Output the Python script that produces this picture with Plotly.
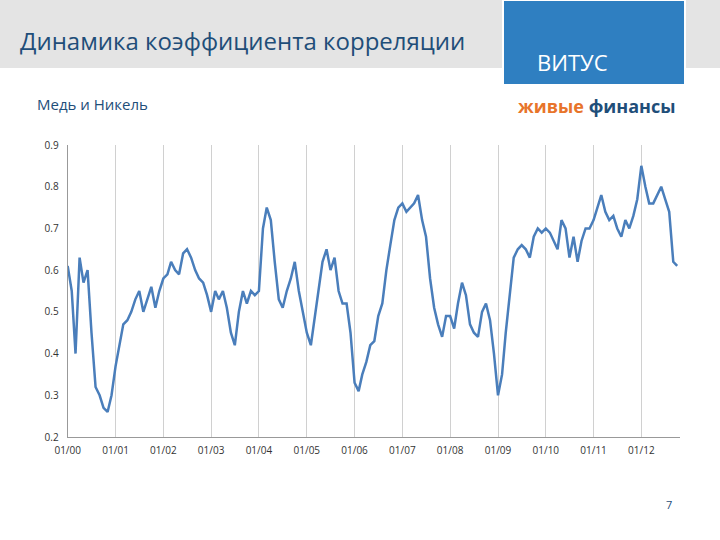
import plotly.graph_objects as go
import pandas as pd

values = [
0.61,0.55,0.40,0.63,0.57,0.60,0.45,0.32,0.30,0.27,0.26,0.30,
0.37,0.42,0.47,0.48,0.50,0.53,0.55,0.50,0.53,0.56,0.51,0.55,
0.58,0.59,0.62,0.60,0.59,0.64,0.65,0.63,0.60,0.58,0.57,0.54,
0.50,0.55,0.53,0.55,0.51,0.45,0.42,0.50,0.55,0.52,0.55,0.54,
0.55,0.70,0.75,0.72,0.62,0.53,0.51,0.55,0.58,0.62,0.55,0.50,
0.45,0.42,0.48,0.55,0.62,0.65,0.60,0.63,0.55,0.52,0.52,0.45,
0.33,0.31,0.35,0.38,0.42,0.43,0.49,0.52,0.60,0.66,0.72,0.75,
0.76,0.74,0.75,0.76,0.78,0.72,0.68,0.58,0.51,0.47,0.44,0.49,
0.49,0.46,0.52,0.57,0.54,0.47,0.45,0.44,0.50,0.52,0.48,0.40,
0.30,0.35,0.45,0.55,0.63,0.65,0.66,0.65,0.63,0.68,0.70,0.69,
0.70,0.69,0.67,0.65,0.72,0.70,0.63,0.68,0.62,0.67,0.70,0.70,
0.72,0.75,0.78,0.74,0.72,0.73,0.70,0.68,0.72,0.70,0.73,0.77,
0.85,0.80,0.76,0.76,0.78,0.80,0.77,0.74,0.62,0.61]
dates = pd.date_range("2000-01-01", periods=len(values), freq="MS")
tick_labels = [f"01/{y:02d}" for y in range(0, 13)]
tick_vals = [f"20{y:02d}-01-01" for y in range(0, 13)]

fig = go.Figure(go.Scatter(x=dates, y=values, mode="lines",
                           line=dict(color="#4a7ebb", width=2.5)))
fig.update_layout(
    width=720, height=540, paper_bgcolor="white", plot_bgcolor="white",
    margin=dict(l=0, r=0, t=0, b=0, autoexpand=False), showlegend=False,
    font=dict(family="Open Sans", color="#333"),
    xaxis=dict(domain=[0.094, 0.944], range=["2000-01-01", "2012-10-20"],
               tickvals=tick_vals, ticktext=tick_labels, tickfont=dict(size=10),
               showgrid=True, gridcolor="#d0d0d0", showline=True, linecolor="#999",
               ticks="outside", ticklen=4, tickcolor="white", zeroline=False,
               automargin=False),
    yaxis=dict(domain=[1-437/540, 1-145/540], range=[0.2, 0.9], dtick=0.1,
               tickformat=".1f", tickfont=dict(size=10), showgrid=False,
               showline=True, linecolor="#999", zeroline=False,
               ticks="outside", ticklen=6, tickcolor="white", automargin=False),
    shapes=[dict(type="rect", xref="paper", yref="paper", x0=0, x1=1,
                 y0=1-68/540, y1=1, fillcolor="#e4e4e4", line_width=0, layer="below"),
            dict(type="rect", xref="paper", yref="paper", x0=503/720, x1=685/720,
                 y0=1-85/540, y1=1, fillcolor="#2f7fc1", line=dict(color="white", width=2))],
    annotations=[
        dict(text="Динамика коэффициента корреляции", xref="paper", yref="paper",
             x=18/720, y=1-40/540, xanchor="left", yanchor="middle", showarrow=False,
             font=dict(size=24, color="#1f4e79")),
        dict(text="ВИТУС", xref="paper", yref="paper", x=610/720, y=1-45/540,
             showarrow=False, font=dict(size=22, color="white")),
        dict(text="Медь и Никель", xref="paper", yref="paper", x=35/720, y=1-104/540,
             xanchor="left", yanchor="middle", showarrow=False, font=dict(size=15, color="#1f4e79")),
        dict(text="<b><span style='color:#e8742a'>живые</span> <span style='color:#1f4e79'>финансы</span></b>",
             xref="paper", yref="paper", x=678/720, y=1-106/540, xanchor="right", yanchor="middle",
             showarrow=False, font=dict(size=18)),
        dict(text="7", xref="paper", yref="paper", x=674/720, y=1-514/540,
             showarrow=False, font=dict(size=11, color="#1f4e79")),
    ])
fig.write_html("out.html", config={"displayModeBar": False},
               post_script="document.body.style.margin='0';document.body.style.overflow='hidden';")
